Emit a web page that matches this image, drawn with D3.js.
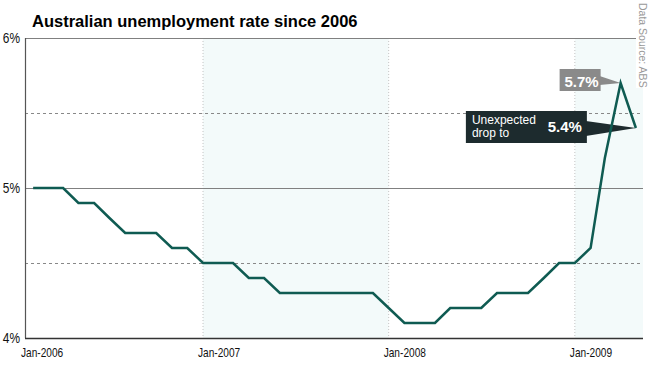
<!DOCTYPE html>
<html>
<meta charset="utf-8">
<script src="https://cdn.jsdelivr.net/npm/d3@7"></script>
<style>
body{
	margin:0;
	background:#fff;
}
svg text{
	font-family: "Liberation Sans", Arial, Helvetica, sans-serif;
}
.title{
	font-size:16.5px;
	font-weight:bold;
	fill:#000;
}
.tick_label{
	fill:#111;
}
</style>
<body>
<svg id="chart" width="650" height="366"></svg>
</body>
<script>
// monthly unemployment rate, %
const months = [
	"2006-01","2006-02","2006-03","2006-04","2006-05","2006-06","2006-07","2006-08","2006-09","2006-10","2006-11","2006-12",
	"2007-01","2007-02","2007-03","2007-04","2007-05","2007-06","2007-07","2007-08","2007-09","2007-10","2007-11","2007-12",
	"2008-01","2008-02","2008-03","2008-04","2008-05","2008-06","2008-07","2008-08","2008-09","2008-10","2008-11","2008-12",
	"2009-01","2009-02","2009-03","2009-04"
];
const rates = [
	5.0,5.0,5.0,4.9,4.9,4.8,4.7,4.7,4.7,4.6,4.6,4.5,
	4.5,4.5,4.4,4.4,4.3,4.3,4.3,4.3,4.3,4.3,4.3,4.2,
	4.1,4.1,4.1,4.2,4.2,4.2,4.3,4.3,4.3,4.4,4.5,4.5,
	4.6,5.2,5.7,5.4
];
const yTicks = [4, 5, 6];
const yTickLabels = ["4%", "5%", "6%"];
const yHalfTicks = [4.5, 5.5];
const yearTicks = ["2006-01", "2007-01", "2008-01", "2009-01"];
const yearLabels = ["Jan-2006", "Jan-2007", "Jan-2008", "Jan-2009"];
const shadedYears = [["2007-01", "2008-01"], ["2009-01", "2009-05-15"]];

const parse = d3.timeParse("%Y-%m");
const parseDay = d3.timeParse("%Y-%m-%d");
const toDate = s => parse(s) || parseDay(s);

// each value sits at the end of its month
const data = months.map((m, i) => ({date: d3.timeMonth.offset(parse(m), 1), value: rates[i]}));

const svg = d3.select("#chart");
const pLeft = 25, pRight = 643, pTop = 38, pBottom = 338;

const x = d3.scaleTime()
	.domain([new Date(2006, 0, 16), new Date(2009, 4, 15)])
	.range([pLeft, pRight]);
const y = d3.scaleLinear()
	.domain([4, 6])
	.range([pBottom, pTop]);

// shaded years
svg.append("g")
	.selectAll("rect")
	.data(shadedYears)
	.join("rect")
	.attr("x", d => x(toDate(d[0])))
	.attr("width", d => Math.min(x(toDate(d[1])), pRight) - x(toDate(d[0])))
	.attr("y", pTop)
	.attr("height", pBottom - pTop)
	.attr("fill", "#f3fafa");

// vertical year gridlines
svg.append("g")
	.selectAll("line")
	.data(yearTicks.slice(1))
	.join("line")
	.attr("x1", d => x(parse(d))).attr("x2", d => x(parse(d)))
	.attr("y1", pTop).attr("y2", pBottom)
	.attr("stroke", "#c4c4c4")
	.attr("stroke-width", 1)
	.attr("stroke-dasharray", "1,2");

// half-percent dashed lines
svg.append("g")
	.selectAll("line")
	.data(yHalfTicks)
	.join("line")
	.attr("x1", pLeft).attr("x2", pRight)
	.attr("y1", d => y(d) + 0.5).attr("y2", d => y(d) + 0.5)
	.attr("stroke", "#888")
	.attr("stroke-width", 1)
	.attr("stroke-dasharray", "3,3");

// 5% line and top border
svg.append("g")
	.selectAll("line")
	.data([5, 6])
	.join("line")
	.attr("x1", pLeft).attr("x2", pRight)
	.attr("y1", d => y(d) + 0.5).attr("y2", d => y(d) + 0.5)
	.attr("stroke", "#808080")
	.attr("stroke-width", 1);

// axes
svg.append("line")
	.attr("x1", pLeft + 0.5).attr("x2", pLeft + 0.5)
	.attr("y1", pTop).attr("y2", pBottom)
	.attr("stroke", "#555").attr("stroke-width", 1.2);
svg.append("line")
	.attr("x1", pLeft).attr("x2", pRight)
	.attr("y1", pBottom + 0.5).attr("y2", pBottom + 0.5)
	.attr("stroke", "#333").attr("stroke-width", 1.6);

// y labels (condensed look)
svg.append("g")
	.selectAll("text")
	.data(yTicks)
	.join("text")
	.attr("class", "tick_label")
	.attr("transform", d => "translate(" + (pLeft - 5) + "," + (y(d) + 5) + ") scale(0.85,1)")
	.attr("text-anchor", "end")
	.style("font-size", "14px")
	.text((d, i) => yTickLabels[i]);

// x labels
svg.append("g")
	.selectAll("text")
	.data(yearTicks)
	.join("text")
	.attr("class", "tick_label")
	.attr("transform", d => "translate(" + (Math.max(x(parse(d)), pLeft + 1) - 5) + ",357) scale(0.78,1)")
	.style("font-size", "13px")
	.text((d, i) => yearLabels[i]);

// title
svg.append("text")
	.attr("class", "title")
	.attr("x", 32)
	.attr("y", 27)
	.text("Australian unemployment rate since 2006");

// annotations
const peak = data[data.length - 2];
const last = data[data.length - 1];
const px = x(peak.date), py = y(peak.value);
const lx = x(last.date), ly = y(last.value);

const ann = svg.append("g");
// 5.7% box
ann.append("path")
	.attr("d", `M${px - 21},${py - 7}L${px},${py}L${px - 21},${py + 2}Z`)
	.attr("fill", "#8a8a8a");
ann.append("rect")
	.attr("x", px - 61).attr("y", py - 14)
	.attr("width", 41).attr("height", 22)
	.attr("fill", "#8a8a8a");
ann.append("text")
	.attr("x", px - 22).attr("y", py + 4)
	.attr("text-anchor", "end")
	.attr("fill", "#fff")
	.style("font-size", "15px")
	.style("font-weight", "bold")
	.text("5.7%");

// 5.4% box
ann.append("path")
	.attr("d", `M${lx - 50},${ly - 7}L${lx},${ly}L${lx - 50},${ly + 8}Z`)
	.attr("fill", "#1d2b2e");
ann.append("rect")
	.attr("x", lx - 170).attr("y", ly - 17)
	.attr("width", 121).attr("height", 32)
	.attr("fill", "#1d2b2e");
ann.append("text")
	.attr("x", lx - 164).attr("y", ly - 4.5)
	.attr("fill", "#fff")
	.style("font-size", "12px")
	.text("Unexpected");
ann.append("text")
	.attr("x", lx - 164).attr("y", ly + 9)
	.attr("fill", "#fff")
	.style("font-size", "12px")
	.text("drop to");
ann.append("text")
	.attr("x", lx - 54).attr("y", ly + 4)
	.attr("text-anchor", "end")
	.attr("fill", "#fff")
	.style("font-size", "15px")
	.style("font-weight", "bold")
	.text("5.4%");

// the line
const line = d3.line()
	.x(d => x(d.date))
	.y(d => y(d.value));

svg.append("path")
	.datum(data)
	.attr("fill", "none")
	.attr("stroke", "#0f5b52")
	.attr("stroke-width", 2.5)
	.attr("stroke-linejoin", "miter")
	.attr("d", line);

// source
svg.append("rect")
	.attr("x", 636).attr("y", 0)
	.attr("width", 14).attr("height", 88)
	.attr("fill", "#fff");
svg.append("text")
	.attr("transform", "translate(639,3) rotate(90)")
	.attr("fill", "#999")
	.style("font-size", "10.5px")
	.text("Data Source: ABS");
</script>
</html>
